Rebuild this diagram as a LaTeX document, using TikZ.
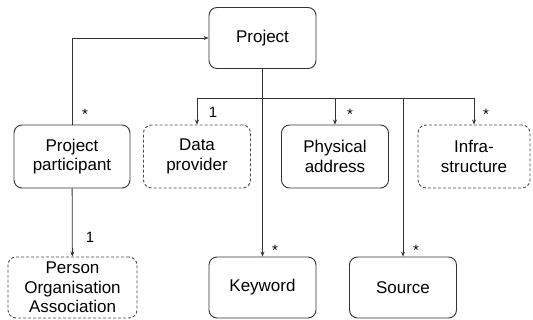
\documentclass[tikz,border=0pt]{standalone}
\usepackage{fontspec}
\setmainfont{Liberation Sans}
\usetikzlibrary{arrows.meta,positioning}

\tikzset{
  box/.style={draw=black!80, line width=0.9pt, rounded corners=8pt, minimum width=107pt,
    minimum height=61pt, align=center, inner sep=1pt, font=\fontsize{17}{19.5}\selectfont},
  optbox/.style={box, draw=black!70, dash pattern=on 3pt off 2pt},
  link/.style={draw=black!80, line width=0.8pt},
  arr/.style={link, -{Stealth[length=5pt,width=4pt]}},
  mult/.style={font=\fontsize{15}{17}\selectfont, inner sep=1pt}
}

\begin{document}
\begin{tikzpicture}[x=1pt,y=-1pt]
    \useasboundingbox (0,0) rectangle (533,320);
    % classes
    \node[box] (project) at (262.5,38) {Project};
    \node[box, minimum width=116pt, minimum height=63pt] (participant) at (72,156.5) {Project\\participant};
    \node[optbox, minimum height=63pt] (dataprov) at (197,156.5) {Data\\provider};
    \node[box, minimum height=63pt] (physaddr) at (335,156.5) {Physical\\address};
    \node[optbox, minimum width=112pt, minimum height=63pt] (infra) at (474,156.5) {Infra-\\structure};
    \node[optbox, minimum width=129pt] (person) at (72.5,287.5) {Person\\Organisation\\Association};
    \node[box] (keyword) at (262.5,287.5) {Keyword};
    \node[box] (source) at (403,287.5) {Source};

    % connectors
    \draw[arr] (participant.north) |- (project.west);
    \draw[arr] (participant) -- (person);
    \draw[arr] (project) -- (keyword);
    \coordinate (busL) at (dataprov.north |- 0,98);
    \coordinate (busR) at (infra.north |- 0,98);
    \draw[link] (busL) -- (busR);
    \foreach \n in {dataprov,physaddr,infra}
      \draw[arr] (\n.north |- busL) -- (\n.north);
    \draw[arr] (source.north |- busL) -- (source);

    % multiplicities
    \node[mult] (m1) at (85,114) {*};
    \node[mult] (m2) at (213,112) {1};
    \node[mult] (m3) at (350,114) {*};
    \node[mult] (m4) at (486,114) {*};
    \node[mult] (m5) at (90,237) {1};
    \node[mult] (m6) at (275,250) {*};
    \node[mult] (m7) at (416,250) {*};
  \end{tikzpicture}
\end{document}
